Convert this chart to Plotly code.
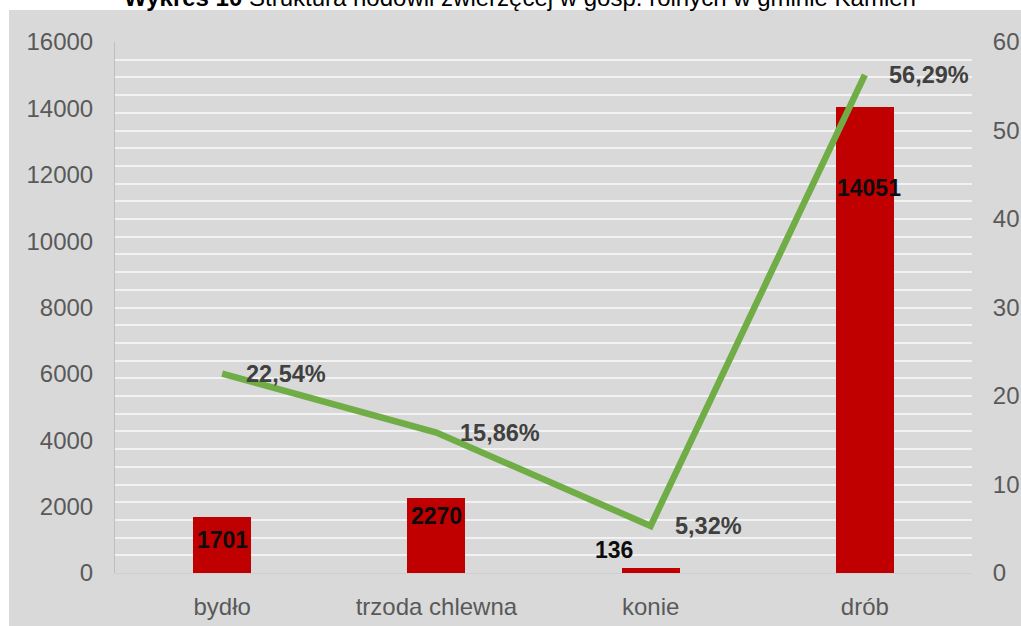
import plotly.graph_objects as go

# ---- data ----
categories = ["bydło", "trzoda chlewna", "konie", "drób"]
counts = [1701, 2270, 136, 14051]
shares = [22.54, 15.86, 5.32, 56.29]
left_ticks = [0, 2000, 4000, 6000, 8000, 10000, 12000, 14000, 16000]
right_ticks = [0, 10, 20, 30, 40, 50, 60]
title_bold = "Wykres 10"
title_rest = " Struktura hodowli zwierzęcej w gosp. rolnych w gminie Kamień"

share_labels = [f"{v:.2f}".replace(".", ",") + "%" for v in shares]
count_labels = [str(v) for v in counts]

# ---- styling ----
FONT = "Liberation Sans, Arial, sans-serif"
BG = "#D9D9D9"
W, H = 1021, 626
ML, MR, MT, MB = 115, 49, 42, 53
PW, PH = W - ML - MR, H - MT - MB


def px_x(x):
    return (x - ML) / PW


def px_y(y):
    return (H - MB - y) / PH


# pixel offsets of bar value labels (xshift, yshift)
bar_label_shift = [(0, -23), (0, -18), (-37, 18), (4, -81)]

fig = go.Figure()
fig.add_trace(go.Bar(
    x=categories, y=counts, marker=dict(color="#C00000", line=dict(width=0)),
    width=0.27, yaxis="y", hoverinfo="skip", showlegend=False,
))
fig.add_trace(go.Scatter(
    x=categories, y=shares, mode="lines", yaxis="y2",
    line=dict(color="#70AD47", width=6.5), hoverinfo="skip", showlegend=False,
))

annotations = []
for c, v, lab, (dx, dy) in zip(categories, counts, count_labels, bar_label_shift):
    annotations.append(dict(
        x=c, y=v, xref="x", yref="y", text=f"<b>{lab}</b>", showarrow=False,
        xshift=dx, yshift=dy, font=dict(family=FONT, size=23, color="#0D0D0D"),
        xanchor="center", yanchor="middle",
    ))
for c, v, lab in zip(categories, shares, share_labels):
    annotations.append(dict(
        x=c, y=v, xref="x", yref="y2", text=f"<b>{lab}</b>", showarrow=False,
        xshift=22, yshift=0, font=dict(family=FONT, size=23.5, color="#404040"),
        xanchor="left", yanchor="middle",
    ))
# title (partly cut off at top like the reference)
annotations.append(dict(
    x=px_x(520), y=px_y(-3), xref="paper", yref="paper",
    text=f"<b>{title_bold}</b>{title_rest}", showarrow=False,
    font=dict(family=FONT, size=24, color="#000000"),
    xanchor="center", yanchor="middle",
))

fig.update_layout(
    template="none",
    width=W, height=H, autosize=False,
    margin=dict(l=ML, r=MR, t=MT, b=MB, pad=0, autoexpand=False),
    paper_bgcolor=BG, plot_bgcolor=BG,
    font=dict(family=FONT, size=24, color="#595959"),
    bargap=0,
    xaxis=dict(
        type="category", categoryorder="array", categoryarray=categories,
        range=[-0.5, 3.5], showgrid=False, zeroline=False, automargin=False,
        showline=True, linecolor="#CFCFCF", linewidth=1,
        ticks="outside", ticklen=12, tickcolor="rgba(0,0,0,0)",
        tickfont=dict(family=FONT, size=24, color="#595959"),
    ),
    yaxis=dict(
        range=[0, 16000], tickvals=left_ticks, ticktext=[str(t) for t in left_ticks],
        showgrid=False, zeroline=False, showline=True, linecolor="#BFBFBF", linewidth=1,
        automargin=False,
        ticks="outside", ticklen=16, tickcolor="rgba(0,0,0,0)",
        tickfont=dict(family=FONT, size=24, color="#595959"),
    ),
    yaxis2=dict(
        range=[0, 60], tickvals=right_ticks, overlaying="y", side="right",
        showgrid=False, zeroline=False, showline=False, automargin=False,
        ticks="outside", ticklen=15, tickcolor="rgba(0,0,0,0)",
        tickfont=dict(family=FONT, size=24, color="#595959"),
        minor=dict(dtick=2, tick0=0, showgrid=True, gridcolor="#F2F2F2", gridwidth=2),
    ),
    shapes=[
        dict(type="rect", xref="paper", yref="paper", layer="below",
             x0=px_x(-5), x1=px_x(9), y0=px_y(H + 5), y1=px_y(-5),
             fillcolor="#FFFFFF", line=dict(width=0)),
        dict(type="rect", xref="paper", yref="paper", layer="below",
             x0=px_x(-5), x1=px_x(W + 5), y0=px_y(10), y1=px_y(-5),
             fillcolor="#FFFFFF", line=dict(width=0)),
    ],
    annotations=annotations,
)

fig.write_html(
    "out.html",
    config={"displayModeBar": False, "responsive": False, "staticPlot": True},
    post_script=(
        "document.documentElement.style.margin='0px';"
        "document.documentElement.style.padding='0px';"
        "document.documentElement.style.overflow='hidden';"
        "document.body.style.margin='0px';"
        "document.body.style.padding='0px';"
        "document.body.style.overflow='hidden';"
    ),
)
